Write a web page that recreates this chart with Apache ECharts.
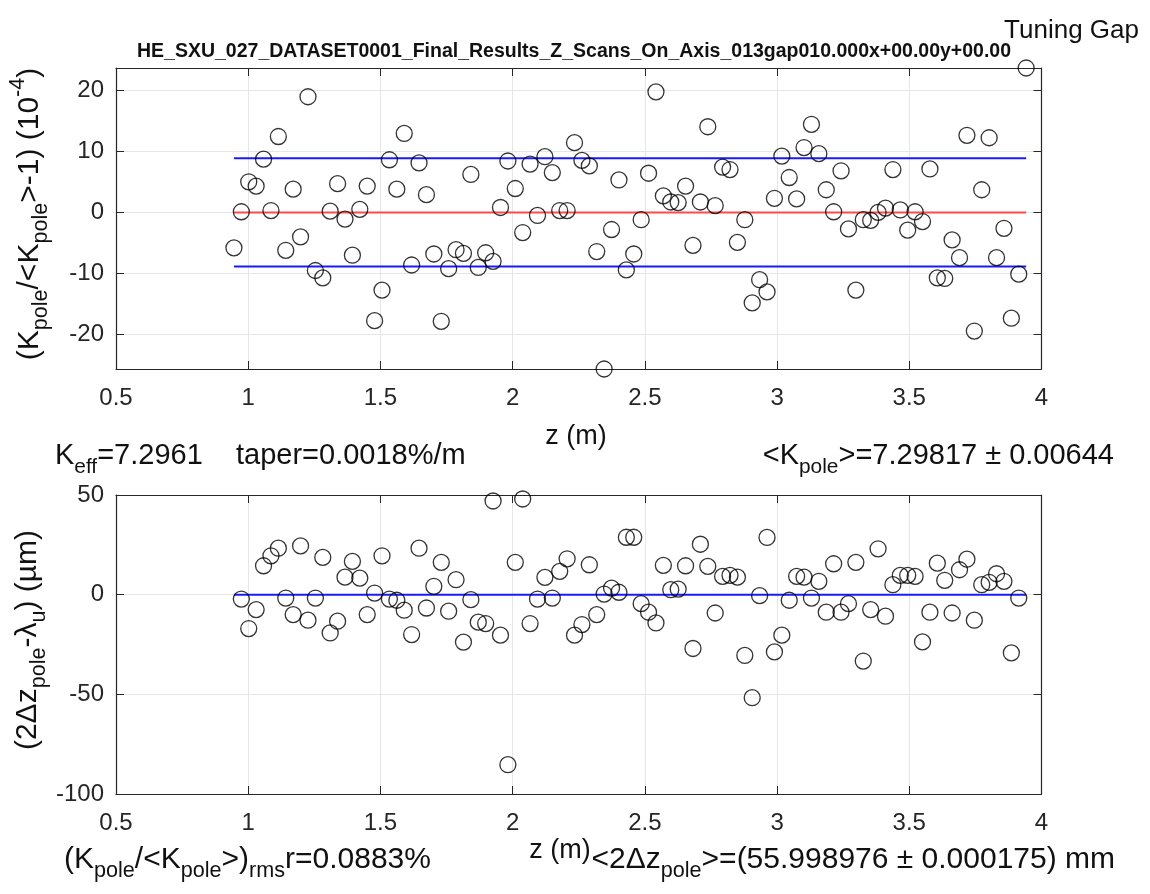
<!DOCTYPE html>
<html><head><meta charset="utf-8">
<script src="https://cdn.jsdelivr.net/npm/echarts@6/dist/echarts.min.js"></script>
<style>html,body{margin:0;padding:0;background:#fff}#c{width:1150px;height:894px}</style>
</head><body><div id="c"></div>
<script>
// pole positions z (m)
const zPole = [0.946,0.974,1.002,1.030,1.058,1.086,1.114,1.142,1.170,1.198,1.226,1.254,1.282,1.310,1.338,1.366,1.394,1.422,1.450,1.478,1.506,1.534,1.562,1.590,1.618,1.646,1.674,1.702,1.730,1.758,1.786,1.814,1.842,1.870,1.898,1.926,1.954,1.982,2.010,2.038,2.066,2.094,2.122,2.150,2.178,2.206,2.234,2.262,2.290,2.318,2.346,2.374,2.402,2.430,2.458,2.486,2.514,2.542,2.570,2.598,2.626,2.654,2.682,2.710,2.738,2.766,2.794,2.822,2.850,2.878,2.906,2.934,2.962,2.990,3.018,3.046,3.074,3.102,3.130,3.158,3.186,3.214,3.242,3.270,3.298,3.326,3.354,3.382,3.410,3.438,3.466,3.494,3.522,3.550,3.578,3.606,3.634,3.662,3.690,3.718,3.746,3.774,3.802,3.830,3.858,3.886,3.914,3.942];
// (K_pole/<K_pole>-1) in 1e-4
const kDev = [-5.8,0.1,5.0,4.3,8.7,0.3,12.4,-6.2,3.8,-4.0,18.9,-9.5,-10.7,0.2,4.7,-1.1,-7.0,0.5,4.3,-17.7,-12.7,8.6,3.8,12.9,-8.6,8.1,2.9,-6.8,-17.8,-9.2,-6.1,-6.7,6.2,-9.0,-6.6,-8.0,0.8,8.4,3.9,-3.3,7.9,-0.5,9.1,6.5,0.3,0.3,11.4,8.5,7.6,-6.4,-25.6,-2.8,5.3,-9.4,-6.8,-1.2,6.4,19.7,2.7,1.7,1.6,4.3,-5.4,1.7,14.0,1.1,7.4,7.0,-4.9,-1.2,-14.8,-11.0,-13.0,2.3,9.2,5.7,2.2,10.6,14.4,9.6,3.7,0.1,6.8,-2.7,-12.7,-1.2,-1.3,0.0,0.7,7.0,0.4,-2.9,0.1,-1.5,7.1,-10.7,-10.8,-4.5,-7.4,12.6,-19.4,3.7,12.2,-7.4,-2.6,-17.3,-10.1,23.6];
// (2 dz_pole - lambda_u) in um, at poles 2..107
const dzDev = [-2.2,-17.0,-7.5,14.5,19.5,23.3,-1.7,-10.0,24.5,-12.8,-1.7,18.7,-19.2,-13.3,8.8,16.7,8.3,-10.0,0.8,19.5,-2.2,-2.8,-7.8,-20.0,23.3,-6.7,4.2,16.2,-8.3,7.5,-23.8,-2.5,-13.8,-14.5,47.0,-20.3,-85.3,16.2,48.0,-14.5,-2.2,8.7,-1.7,11.7,18.0,-20.3,-15.0,15.0,-10.0,0.3,3.3,1.2,28.8,28.8,-4.5,-8.8,-14.2,14.7,2.5,2.8,14.5,-27.0,25.3,14.2,-9.2,9.2,9.7,8.8,-30.5,-51.7,-0.5,28.7,-28.7,-20.3,-2.8,9.2,8.8,-1.7,6.7,-8.8,15.5,-8.8,-4.5,16.2,-33.3,-7.5,23.0,-10.8,5.0,9.7,9.7,9.2,-23.7,-8.8,15.8,7.2,-9.2,12.5,17.8,-12.8,5.0,6.2,10.5,6.7,-29.2,-1.7];
const zGap = zPole.slice(1, 107);
const kRms = 8.83;
const kMean = 0;
const dzMean = 0;
const yTopTicks = [-20,-10,0,10,20];

const FONT = "'Liberation Sans', Arial, Helvetica, sans-serif";
const AX = '#262626';
const TF = 24;   // tick font
const AF = 29;   // annotation font

const chart = echarts.init(document.getElementById('c'), null, {renderer: 'canvas'});

const yTopMin = Math.min(...kDev), yTopMax = Math.max(...kDev);

function xAx(grid, pos, labels) {
  return {
    type: 'value', gridIndex: grid, position: pos, min: 0.5, max: 4, interval: 0.5,
    axisLine: {show: true, onZero: false, lineStyle: {color: AX, width: 1.2}},
    axisTick: {show: true, inside: true, length: 8, lineStyle: {color: AX}},
    axisLabel: {show: labels, color: AX, fontSize: TF, fontFamily: FONT, margin: 17,
      showMinLabel: true, showMaxLabel: true},
    splitLine: {show: labels, lineStyle: {color: '#e6e6e6', width: 1}}
  };
}
function yAx(grid, pos, labels, min, max, ticks, interval) {
  const a = {
    type: 'value', gridIndex: grid, position: pos, min: min, max: max,
    axisLine: {show: true, onZero: false, lineStyle: {color: AX, width: 1.2}},
    axisTick: {show: true, inside: true, length: 8, lineStyle: {color: AX}},
    axisLabel: {show: labels, color: AX, fontSize: TF, fontFamily: FONT, margin: 12,
      showMinLabel: true, showMaxLabel: true},
    splitLine: {show: labels, lineStyle: {color: '#e6e6e6', width: 1}}
  };
  if (interval) { a.interval = interval; }
  else { a.axisTick.customValues = ticks; a.axisLabel.customValues = ticks; }
  return a;
}

const circ = {color: 'rgba(0,0,0,0)', borderColor: '#000', borderWidth: 1.3};

function rich(F) {
  return {
    m: {fontSize: F, lineHeight: F * 1.5, fontFamily: FONT, fill: '#111'},
    s: {fontSize: F * 0.72, lineHeight: F * 0.72, verticalAlign: 'bottom', fontFamily: FONT, fill: '#111'},
    u: {fontSize: F * 0.72, lineHeight: F * 0.72, verticalAlign: 'top', fontFamily: FONT, fill: '#111'}
  };
}
function txt(x, y, text, opts) {
  opts = opts || {};
  const F = opts.size || AF;
  return {
    type: 'text', x: x, y: y, rotation: opts.rot || 0, silent: true,
    style: {
      text: text, rich: rich(F), fontSize: F, fontFamily: FONT, fill: '#111',
      fontWeight: opts.bold ? 'bold' : 'normal',
      align: opts.align || 'left', verticalAlign: 'middle'
    }
  };
}

const option = {
  animation: false,
  backgroundColor: '#fff',
  grid: [
    {left: 116, top: 68, width: 925.5, height: 301, containLabel: false},
    {left: 116, top: 495, width: 925.5, height: 299, containLabel: false}
  ],
  xAxis: [xAx(0, 'bottom', true), xAx(0, 'top', false), xAx(1, 'bottom', true), xAx(1, 'top', false)],
  yAxis: [
    yAx(0, 'left', true, yTopMin, yTopMax, yTopTicks),
    yAx(0, 'right', false, yTopMin, yTopMax, yTopTicks),
    yAx(1, 'left', true, -100, 50, null, 50),
    yAx(1, 'right', false, -100, 50, null, 50)
  ],
  series: [
    {type: 'line', xAxisIndex: 0, yAxisIndex: 0, symbol: 'none', lineStyle: {color: '#1a1aff', width: 2},
      data: [[zPole[0], kRms], [zPole[zPole.length - 1], kRms]], z: 1},
    {type: 'line', xAxisIndex: 0, yAxisIndex: 0, symbol: 'none', lineStyle: {color: '#1a1aff', width: 2},
      data: [[zPole[0], -kRms], [zPole[zPole.length - 1], -kRms]], z: 1},
    {type: 'line', xAxisIndex: 0, yAxisIndex: 0, symbol: 'none', lineStyle: {color: '#ff4a4a', width: 2},
      data: [[zPole[0], kMean], [zPole[zPole.length - 1], kMean]], z: 1},
    {type: 'scatter', xAxisIndex: 0, yAxisIndex: 0, symbol: 'circle', symbolSize: 16, clip: false,
      itemStyle: circ, data: zPole.map((z, i) => [z, kDev[i]]), z: 2},
    {type: 'line', xAxisIndex: 2, yAxisIndex: 2, symbol: 'none', lineStyle: {color: '#1a1aff', width: 2},
      data: [[zPole[0], dzMean], [zPole[zPole.length - 1], dzMean]], z: 1},
    {type: 'scatter', xAxisIndex: 2, yAxisIndex: 2, symbol: 'circle', symbolSize: 16, clip: false,
      itemStyle: circ, data: zGap.map((z, i) => [z, dzDev[i]]), z: 2}
  ],
  graphic: [
    txt(1139, 31, 'Tuning Gap', {align: 'right', size: 26}),
    txt(574, 52, 'HE_SXU_027_DATASET0001_Final_Results_Z_Scans_On_Axis_013gap010.000x+00.00y+00.00', {align: 'center', size: 19.5, bold: true}),
    txt(30, 214, '{m|(K}{s|pole}{m|/<K}{s|pole}{m|>-1) (10}{u|-4}{m|)}', {align: 'center', rot: Math.PI / 2, size: 30}),
    txt(576, 437, 'z (m)', {align: 'center', size: 27}),
    txt(55, 456, '{m|K}{s|eff}{m|=7.2961}'),
    txt(236, 456, '{m|taper=0.0018%/m}'),
    txt(1114, 456, '{m|<K}{s|pole}{m|>=7.29817 ± 0.00644}', {align: 'right'}),
    txt(28, 640, '{m|(2Δz}{s|pole}{m|-λ}{s|u}{m|) (µm)}', {align: 'center', rot: Math.PI / 2, size: 30}),
    txt(560, 851, 'z (m)', {align: 'center', size: 27}),
    txt(64, 860, '{m|(K}{s|pole}{m|/<K}{s|pole}{m|>)}{s|rms}{m|r=0.0883%}', {size: 30}),
    txt(1115, 860, '{m|<2Δz}{s|pole}{m|>=(55.998976 ± 0.000175) mm}', {align: 'right', size: 30})
  ]
};
chart.setOption(option);
</script></body></html>
